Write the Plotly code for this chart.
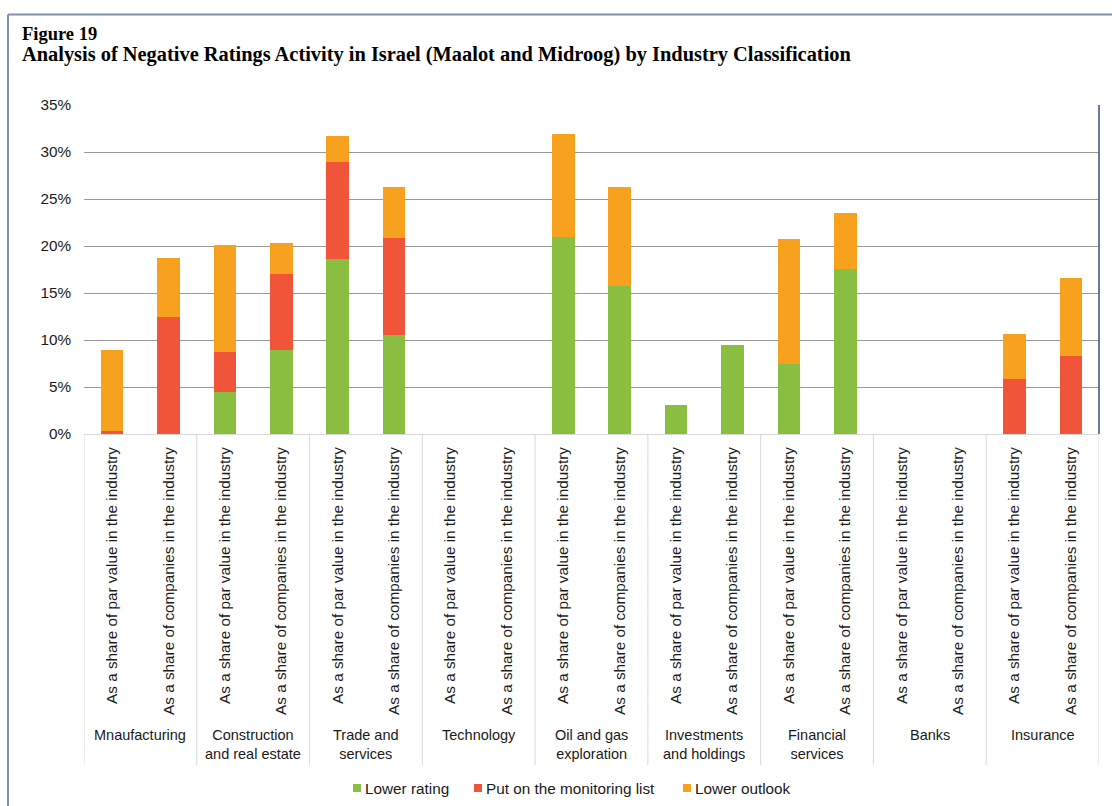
import plotly.graph_objects as go

# Industry groups (each has two bars: share of par value, share of companies)
industries = [
    "Mnaufacturing",
    "Construction<br>and real estate",
    "Trade and<br>services",
    "Technology",
    "Oil and gas<br>exploration",
    "Investments<br>and holdings",
    "Financial<br>services",
    "Banks",
    "Insurance",
]
measures = [
    "As a share of par value in the industry",
    "As a share of companies in the industry",
]

# Percent values, two per industry (par value, companies)
lower_rating = [0.0, 0.0, 4.5, 8.9, 18.6, 10.5, 0.0, 0.0, 21.0, 15.7,
                3.1, 9.45, 7.5, 17.6, 0.0, 0.0, 0.0, 0.0]
monitoring_list = [0.3, 12.4, 4.2, 8.1, 10.3, 10.4, 0.0, 0.0, 0.0, 0.0,
                   0.0, 0.0, 0.0, 0.0, 0.0, 0.0, 5.9, 8.3]
lower_outlook = [8.6, 6.3, 11.4, 3.3, 2.8, 5.4, 0.0, 0.0, 10.9, 10.6,
                 0.0, 0.0, 13.2, 5.9, 0.0, 0.0, 4.7, 8.3]

series_names = ["Lower rating", "Put on the monitoring list", "Lower outlook"]
series_colors = ["#89BE40", "#F0553A", "#F7A11E"]

fig_label = "Figure 19"
fig_title = ("Analysis of Negative Ratings Activity in Israel (Maalot and "
             "Midroog) by Industry Classification")

SANS = "Liberation Sans, Arial, sans-serif"
SERIF = "Liberation Serif, Times New Roman, serif"

W, H = 1112, 806
L, R, T, B = 84, 13, 105, 372
plot_w = W - L - R
plot_h = H - T - B

n_bars = len(industries) * len(measures)
xpos = list(range(n_bars))
tick_text = [measures[i % len(measures)] for i in xpos]


def px_x(px):
    return (px - L) / plot_w


def px_y(py):
    return (H - B - py) / plot_h


fig = go.Figure()
for name, vals, col in zip(series_names,
                           [lower_rating, monitoring_list, lower_outlook],
                           series_colors):
    fig.add_trace(go.Bar(
        x=xpos, y=vals, name=name, width=0.4,
        marker=dict(color=col, line=dict(width=0)),
        showlegend=False,
    ))

shapes = []
# group dividers below the axis
for k in range(len(industries) + 1):
    xb = k * len(measures) - 0.5
    shapes.append(dict(type="line", xref="x", yref="paper",
                       x0=xb, x1=xb, y0=0, y1=px_y(765),
                       line=dict(color="#D9D9D9", width=1)))
# outer frame (top and left edges)
shapes.append(dict(type="line", xref="paper", yref="paper",
                   x0=px_x(8), x1=px_x(1120), y0=px_y(14.5), y1=px_y(14.5),
                   line=dict(color="#7F90B0", width=2)))
shapes.append(dict(type="line", xref="paper", yref="paper",
                   x0=px_x(8), x1=px_x(8), y0=px_y(14.5), y1=px_y(820),
                   line=dict(color="#7F90B0", width=2)))
# right edge of the plotting area
shapes.append(dict(type="line", xref="paper", yref="paper",
                   x0=1, x1=1, y0=0, y1=1,
                   line=dict(color="#3D4C7A", width=1.5)))

annotations = []
for k, ind in enumerate(industries):
    annotations.append(dict(
        x=k * len(measures) + 0.5, xref="x", y=px_y(725), yref="paper",
        yanchor="top", xanchor="center", showarrow=False, text=ind,
        font=dict(family=SANS, size=14.5, color="#1A1A1A"),
    ))

# two-line heading in one text block
annotations.append(dict(
    x=px_x(20), y=px_y(22), xref="paper", yref="paper",
    xanchor="left", yanchor="top", align="left", showarrow=False,
    text=("<b><span style='font-size:18.5px'>" + fig_label + "</span></b><br>"
          "<b><span style='font-size:20.4px'>" + fig_title + "</span></b>"),
    font=dict(family=SERIF, size=16.5, color="#000000"),
))

# legend: small colour keys followed by the series names
legend_key_x = [353, 474, 683]
for name, col, kx in zip(series_names, series_colors, legend_key_x):
    shapes.append(dict(type="rect", xref="paper", yref="paper",
                       x0=px_x(kx), x1=px_x(kx + 8),
                       y0=px_y(792), y1=px_y(784),
                       fillcolor=col, line=dict(width=0)))
    annotations.append(dict(
        x=px_x(kx + 10), y=px_y(788), xref="paper", yref="paper",
        xanchor="left", yanchor="middle", showarrow=False, text=name,
        font=dict(family=SANS, size=15.3, color="#1A1A1A"),
    ))

fig.update_layout(
    width=W, height=H,
    margin=dict(l=L, r=R, t=T, b=B, autoexpand=False),
    barmode="stack",
    paper_bgcolor="white", plot_bgcolor="white",
    font=dict(family=SANS, size=15.3, color="#1A1A1A"),
    showlegend=False,
    shapes=shapes,
    annotations=annotations,
)
fig.update_xaxes(
    range=[-0.5, n_bars - 0.5],
    tickmode="array", tickvals=xpos, ticktext=tick_text,
    tickangle=-90, ticks="", showgrid=False,
    showline=True, linecolor="#D9D9D9", linewidth=1,
    ticklabelstandoff=6, zeroline=False, automargin=False,
)
fig.update_yaxes(
    range=[0, 35], dtick=5, ticksuffix="%",
    showgrid=True, gridcolor="#9A9A9A", gridwidth=1,
    zeroline=False, showline=False, ticks="",
    ticklabelstandoff=12, automargin=False,
)

fig.write_html("out.html")
